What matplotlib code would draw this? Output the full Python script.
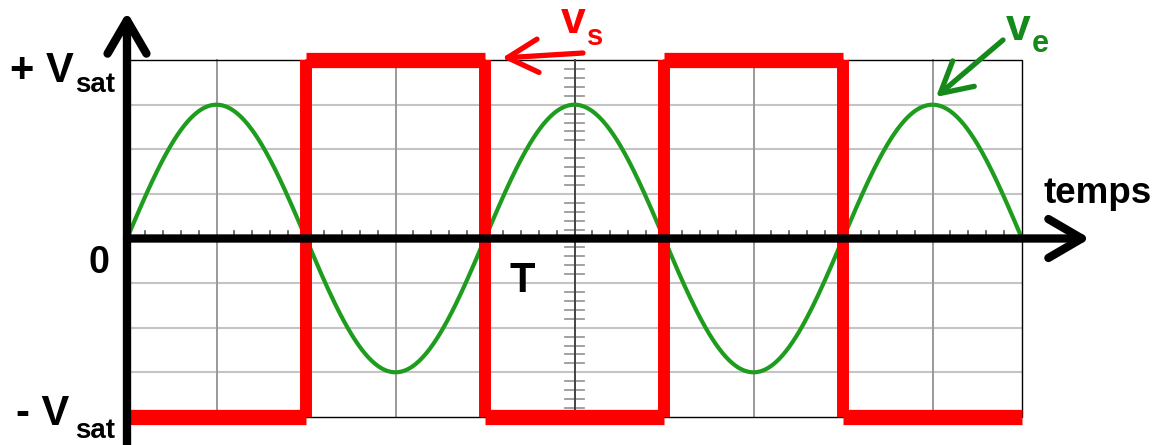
import numpy as np
import matplotlib
matplotlib.use("Agg")
import matplotlib.pyplot as plt

# --- données (en divisions de l'écran) ---
ve_amplitude = 3.0          # amplitude de ve
ve_period = 4.0             # période T
vsat = 4.0                  # niveau de saturation
vs_switch = [0, 2, 4, 6, 8, 10]     # instants de basculement de vs
vs_levels = [-4, 4, -4, 4, -4]      # niveaux de vs entre les basculements
n_xdiv, n_ydiv = 10, 4

# --- géométrie en pixels ---
W, H = 1157, 445
X0, PX_DIV = 127, 89.5
Y0, PY_DIV = 238.5, 44.6


def px(x, y):
    return x / W, 1 - y / H


fig = plt.figure(figsize=(W / 100, H / 100), dpi=100)
ax = fig.add_axes([0, 0, 1, 1])
ax.set_xlim(-X0 / PX_DIV, (W - X0) / PX_DIV)
ax.set_ylim(-(H - Y0) / PY_DIV, Y0 / PY_DIV)
ax.axis("off")

# grille
for k in range(-n_ydiv + 1, n_ydiv):
    if k != 0:
        ax.plot([0, n_xdiv], [k, k], color="#c4c4c4", lw=1.5, zorder=1)
for k in range(1, n_xdiv):
    if k != 5:
        ax.plot([k, k], [-n_ydiv, n_ydiv], color="#9a9a9a", lw=1.4, zorder=1)
# bords
ax.plot([0, n_xdiv, n_xdiv, 0], [n_ydiv, n_ydiv, -n_ydiv, -n_ydiv], color="black", lw=1.0, zorder=2)
# axe central gradué
ax.plot([5, 5], [-n_ydiv, n_ydiv], color="#444444", lw=1.4, zorder=2)
for yy in np.arange(-n_ydiv, n_ydiv + 0.01, 0.2):
    if abs(yy - round(yy)) > 0.01:
        ax.plot([5 - 0.11, 5 + 0.11], [yy, yy], color="#9a9a9a", lw=1.3, zorder=1)
# graduations sur l'axe du temps
for xx in np.arange(0, n_xdiv + 0.01, 0.2):
    if abs(xx - round(xx)) > 0.01:
        ax.plot([xx, xx], [0, 0.17], color="#555555", lw=1.2, zorder=2)

# ve sinusoïdal
t = np.linspace(0, n_xdiv, 800)
ve = ve_amplitude * np.sin(2 * np.pi * t / ve_period)
ax.plot(t, ve, color="#1e9c1e", lw=3.0, zorder=3)

# vs carré
for i, lev in enumerate(vs_levels):
    ax.plot([vs_switch[i], vs_switch[i + 1]], [lev, lev], color="red", lw=11,
            solid_capstyle="butt", zorder=4)
for i in range(1, len(vs_levels)):
    ax.plot([vs_switch[i], vs_switch[i]], [vs_levels[i - 1], vs_levels[i]], color="red",
            lw=8.6, solid_capstyle="butt", zorder=4)

# axes fléchés
ax.annotate("", xy=(0, (Y0 - 12) / PY_DIV), xytext=(0, -(H - Y0 + 5) / PY_DIV),
            arrowprops=dict(arrowstyle="->,head_length=1.2,head_width=0.7", lw=6,
                            color="black", shrinkA=0, shrinkB=0, mutation_scale=20),
            zorder=5)
ax.annotate("", xy=((1090 - X0) / PX_DIV, 0), xytext=(0, 0),
            arrowprops=dict(arrowstyle="->,head_length=1.2,head_width=0.7", lw=6,
                            color="black", shrinkA=0, shrinkB=0, mutation_scale=20),
            zorder=5)

# flèches des légendes
ax.annotate("", xy=((502 - X0) / PX_DIV, (Y0 - 58) / PY_DIV),
            xytext=((583 - X0) / PX_DIV, (Y0 - 53) / PY_DIV),
            arrowprops=dict(arrowstyle="->,head_length=1.1,head_width=0.6", lw=3.8,
                            color="red", shrinkA=0, shrinkB=0, mutation_scale=20),
            zorder=5)
ax.annotate("", xy=((936 - X0) / PX_DIV, (Y0 - 97) / PY_DIV),
            xytext=((1003 - X0) / PX_DIV, (Y0 - 40) / PY_DIV),
            arrowprops=dict(arrowstyle="->,head_length=1.1,head_width=0.6", lw=3.8,
                            color="#15891a", shrinkA=0, shrinkB=0, mutation_scale=20),
            zorder=5)

# textes
font = dict(family="Liberation Sans", weight="bold", va="baseline", ha="left")
fig.text(*px(10, 82), "+ V", fontsize=30, **font)
fig.text(*px(75, 92), "sat", fontsize=20, **font)
fig.text(*px(89, 273), "0", fontsize=27, **font)
fig.text(*px(16, 425), "- V", fontsize=30, **font)
fig.text(*px(75, 438), "sat", fontsize=20, **font)
fig.text(*px(510, 292), "T", fontsize=30, **font)
fig.text(*px(1044, 203), "temps", fontsize=26.5, **font)
fig.text(*px(561, 33), "v", fontsize=32, color="red", **font)
fig.text(*px(587, 45), "s", fontsize=21, color="red", **font)
fig.text(*px(1006, 40), "v", fontsize=32, color="#15891a", **font)
fig.text(*px(1032, 52), "e", fontsize=22, color="#15891a", **font)

fig.savefig("out.png", dpi=100)
